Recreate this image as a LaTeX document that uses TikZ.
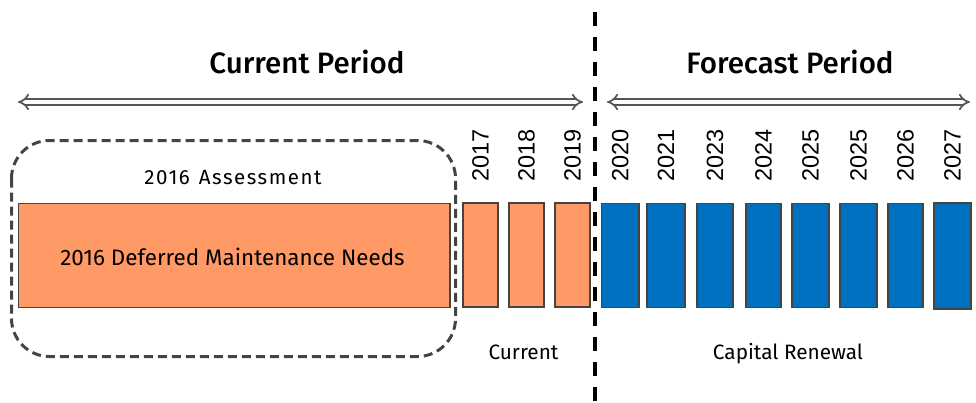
\documentclass[tikz,border=0pt]{standalone}
\usepackage{fontspec}
\usetikzlibrary{arrows.meta}
\newfontfamily\labelfont{Fira Sans}
\newfontfamily\spacedfont{Fira Sans}[LetterSpace=7.5]
\newfontfamily\headfont{Fira Sans}[UprightFont={* Medium}]
\newfontfamily\yearfont{Liberation Sans}
\definecolor{needsorange}{HTML}{FF9966}
\definecolor{renewblue}{HTML}{0070C0}
\definecolor{edgegray}{HTML}{444444}
\definecolor{arrowgray}{HTML}{555555}
\tikzset{
  bar/.style={draw=edgegray, line width=1.6pt, inner sep=0pt, minimum height=104pt},
  oldbar/.style={bar, fill=needsorange},
  newbar/.style={bar, fill=renewblue},
  yearlabel/.style={font=\yearfont\fontsize{23.5}{24}\selectfont, rotate=90, anchor=west, inner sep=0pt},
  heading/.style={font=\headfont\fontsize{29.5}{30}\selectfont, anchor=base, inner sep=0pt},
  caption/.style={font=\labelfont\fontsize{20.8}{22}\selectfont, anchor=base, inner sep=0pt},
  span/.style={draw=arrowgray, double, double distance=3.8pt, line width=1.7pt, {Implies}-{Implies}},
  divider/.style={line width=4pt, dash pattern=on 14pt off 11pt},
  groupframe/.style={draw=edgegray, line width=3pt, dash pattern=on 9pt off 5pt, rounded corners=38pt}
}
\begin{document}
\begin{tikzpicture}[x=1pt, y=-1pt]
  \useasboundingbox (0,0) rectangle (976,402);

  % period headings and their spans
  \node[heading] (curhead) at (307,73) {Current Period};
  \node[heading] (forehead) at (790,73) {Forecast Period};
  \coordinate (cspanL) at (18,102);
  \coordinate (cspanR) at (583,102);
  \coordinate (fspanL) at (607,102);
  \coordinate (fspanR) at (970,102);
  \draw[span] (cspanL) -- (cspanR);
  \draw[span] (fspanL) -- (fspanR);

  % divider between the two periods
  \coordinate (divtop) at (595,12);
  \coordinate (divbot) at (595,402);
  \draw[divider] (divtop) -- (divbot);

  % 2016 assessment group
  \draw[groupframe] (11.5,140.5) rectangle (455.5,356.5);
  \node[caption, font=\spacedfont\fontsize{20.5}{22}\selectfont] (assess) at (233,184) {2016\hspace{2pt} Assessment};
  \node[oldbar, minimum width=431.7pt, minimum height=104pt] (needs) at (234.2,255.3) {};
  \node[caption, font=\labelfont\fontsize{22.4}{24}\selectfont] (needslbl) at (232.5,265) {2016 Deferred Maintenance Needs};

  % current-period years
  \foreach \nm/\cx/\w/\yr in {c1/480.5/35/2017, c2/526.5/35/2018, c3/572.5/35/2019} {
    \node[oldbar, minimum width=\w pt] (\nm) at (\cx,255.2) {};
    \node[yearlabel] (\nm lbl) at (\cx,182) {\yr};
  }

  % forecast-period years
  \foreach \nm/\cx/\w/\yr in {f1/620.3/37.3/2020, f2/666/38/2021, f3/715/36/2023,
      f4/763.5/35/2024, f5/810.5/37/2025, f6/858.5/37/2025, f7/905.5/35/2026} {
    \node[newbar, minimum width=\w pt] (\nm) at (\cx,255.5) {};
    \node[yearlabel] (\nm lbl) at (\cx,182) {\yr};
  }
  \node[newbar, minimum width=37pt, minimum height=106pt] (f8) at (952.5,256) {};
  \node[yearlabel] (f8lbl) at (952.5,182) {2027};

  % group captions
  \node[caption] (curcap) at (523.5,359) {Current};
  \node[caption] (capcap) at (788,359) {Capital Renewal};
\end{tikzpicture}
\end{document}
